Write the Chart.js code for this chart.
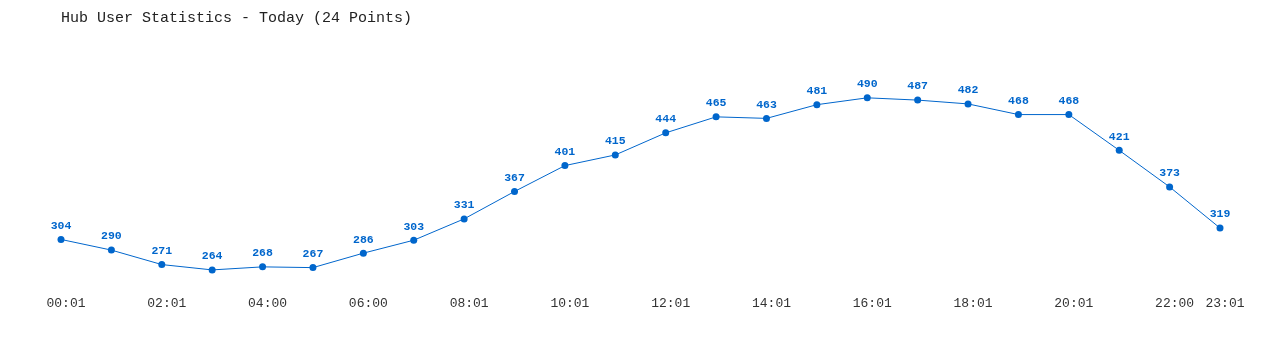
<!DOCTYPE html>
<html>
<head>
<meta charset="utf-8">
<script src="https://cdn.jsdelivr.net/npm/chart.js@4/dist/chart.umd.min.js"></script>
<style>
  html, body { margin: 0; padding: 0; background: #ffffff; }
  #wrap { width: 1280px; height: 350px; position: relative; }
</style>
</head>
<body>
<div id="wrap"><canvas id="c" width="1280" height="350"></canvas></div>
<script>
const titleText = "Hub User Statistics - Today (24 Points)";
const categories = ["00:01","01:01","02:01","03:00","04:00","05:00","06:00","07:00",
                    "08:01","09:01","10:01","11:01","12:01","13:01","14:01","15:01",
                    "16:01","17:01","18:01","19:01","20:01","21:01","22:00","23:01"];
const users = [304,290,271,264,268,267,286,303,331,367,401,415,444,465,463,481,490,487,482,468,468,421,373,319];
const yMin = 238.4;
const yMax = 552.8;

const pointLabels = {
  id: 'pointLabels',
  afterDatasetsDraw(chart) {
    const ctx = chart.ctx;
    const meta = chart.getDatasetMeta(0);
    const data = chart.data.datasets[0].data;
    ctx.save();
    ctx.font = 'bold 11.5px "Liberation Mono", "DejaVu Sans Mono", monospace';
    ctx.fillStyle = '#0066cc';
    ctx.textAlign = 'center';
    ctx.textBaseline = 'middle';
    meta.data.forEach((el, i) => {
      ctx.fillText(String(data[i]), el.x, el.y - 13.5);
    });
    ctx.restore();
  }
};

new Chart(document.getElementById('c'), {
  type: 'line',
  data: {
    labels: categories,
    datasets: [{
      data: users,
      borderColor: '#0066cc',
      backgroundColor: '#0066cc',
      borderWidth: 1,
      pointRadius: 3.5,
      pointBorderWidth: 0,
      pointBackgroundColor: '#0066cc',
      tension: 0,
      fill: false
    }]
  },
  options: {
    responsive: false,
    animation: false,
    devicePixelRatio: 1,
    layout: { padding: { left: 61, right: 60, top: 0, bottom: 33 } },
    plugins: {
      legend: { display: false },
      tooltip: { enabled: false },
      title: {
        display: true,
        text: titleText,
        align: 'start',
        color: '#222222',
        font: { family: '"Liberation Mono", "DejaVu Sans Mono", monospace', size: 15, weight: 'normal', lineHeight: 1.2 },
        padding: { top: 9, bottom: 23 }
      }
    },
    scales: {
      x: {
        grid: { display: false, drawTicks: false },
        border: { display: false },
        ticks: {
          autoSkip: false,
          maxRotation: 0,
          minRotation: 0,
          padding: 6,
          labelOffset: 5,
          color: '#333333',
          font: { family: '"Liberation Mono", "DejaVu Sans Mono", monospace', size: 13 },
          callback: function(value, index) {
            if (index % 2 === 0 || index === categories.length - 1) return categories[index];
            return '';
          }
        }
      },
      y: {
        display: false,
        min: yMin,
        max: yMax
      }
    }
  },
  plugins: [pointLabels]
});
</script>
</body>
</html>
